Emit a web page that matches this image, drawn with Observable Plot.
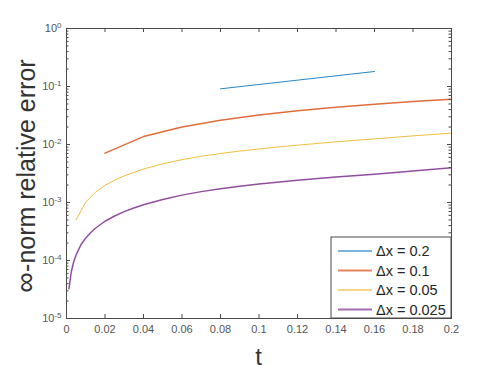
<!DOCTYPE html>
<html><head><meta charset="utf-8">
<script src="https://cdn.jsdelivr.net/npm/d3@7"></script>
<script src="https://cdn.jsdelivr.net/npm/@observablehq/plot@0.6"></script>
<style>
body{margin:0;background:#fff}
#chart svg{font-family:"Liberation Sans",Arial,sans-serif}
</style>
</head><body><div id="chart"></div>
<script>
// ---- data ----
const seriesNames = ["Δx = 0.2", "Δx = 0.1", "Δx = 0.05", "Δx = 0.025"];

const t_dx02 = [0.08, 0.16];
const e_dx02 = [0.0912, 0.1815];

const t_dx01 = [0.02, 0.04, 0.06, 0.08, 0.10, 0.12, 0.14, 0.16, 0.18, 0.20];
const e_dx01 = [0.0071, 0.0137, 0.0200, 0.0263, 0.0323, 0.0382, 0.0440, 0.0496, 0.0551, 0.0605];

const t_dx005 = [0.005, 0.01, 0.015, 0.02, 0.025, 0.03, 0.04, 0.05, 0.06, 0.07, 0.08, 0.09, 0.10, 0.12, 0.14, 0.15, 0.16, 0.18, 0.20];
const e_dx005 = [0.000503, 0.00102, 0.00150, 0.00198, 0.00243, 0.00288, 0.00378, 0.00465, 0.00548, 0.00627, 0.00700, 0.00770, 0.00838, 0.00975, 0.01110, 0.01180, 0.01250, 0.01410, 0.01570];

const t_dx0025 = [0.00125, 0.0025, 0.00375, 0.005, 0.0075, 0.01, 0.0125, 0.015, 0.02, 0.025, 0.03, 0.035, 0.04, 0.05, 0.06, 0.07, 0.08, 0.09, 0.10, 0.12, 0.14, 0.16, 0.18, 0.20];
const e_dx0025 = [3.25e-5, 6.4e-5, 9.5e-5, 1.25e-4, 1.87e-4, 2.45e-4, 3.0e-4, 3.6e-4, 4.75e-4, 5.85e-4, 6.95e-4, 8.05e-4, 9.15e-4, 1.13e-3, 1.34e-3, 1.54e-3, 1.73e-3, 1.91e-3, 2.08e-3, 2.42e-3, 2.74e-3, 3.06e-3, 3.50e-3, 3.96e-3];

const xTicks = [0, 0.02, 0.04, 0.06, 0.08, 0.1, 0.12, 0.14, 0.16, 0.18, 0.2];
const xTickLabels = ["0", "0.02", "0.04", "0.06", "0.08", "0.1", "0.12", "0.14", "0.16", "0.18", "0.2"];
const yTicks = [1e-5, 1e-4, 1e-3, 1e-2, 1e-1, 1];
const yTickExponents = ["-5", "-4", "-3", "-2", "-1", "0"];
const yMinorTicks = [];
for (let k = -5; k < 0; k++) for (let m = 2; m <= 9; m++) yMinorTicks.push(m * Math.pow(10, k));

const xLabel = "t";
const yLabel = "∞-norm relative error";

// ---- styles ----
const colors = ["#0072BD", "#D95319", "#EDB120", "#7E2F8E"];
const widths = [1, 1.5, 1, 1.5];
const axisColor = "#4a4a4a";

const seriesT = [t_dx02, t_dx01, t_dx005, t_dx0025];
const seriesE = [e_dx02, e_dx01, e_dx005, e_dx0025];
const rows = [];
seriesNames.forEach((name, i) => seriesT[i].forEach((t, j) => rows.push({series: name, t, err: seriesE[i][j]})));

const W = 499, H = 370, mL = 66, mR = 48, mT = 28, mB = 52;
const pw = W - mL - mR, ph = H - mT - mB;

const chart = Plot.plot({
  width: W, height: H,
  marginLeft: mL, marginRight: mR, marginTop: mT, marginBottom: mB,
  style: {fontFamily: "'Liberation Sans', Arial, sans-serif", fontSize: "11px", color: "#555", background: "white"},
  x: {domain: [0, 0.2]},
  y: {type: "log", domain: [1e-5, 1]},
  marks: [
    ...seriesNames.map((name, i) => Plot.line(rows.filter(r => r.series === name), {
      x: "t", y: "err", stroke: colors[i], strokeWidth: widths[i], strokeOpacity: 0.85
    })),
    Plot.frame({stroke: axisColor, strokeWidth: 1}),
    Plot.tickX(xTicks, {x: d => d, insetTop: ph - 4, stroke: axisColor}),
    Plot.tickX(xTicks, {x: d => d, insetBottom: ph - 4, stroke: axisColor}),
    Plot.tickY(yTicks, {y: d => d, insetRight: pw - 4, stroke: axisColor}),
    Plot.tickY(yTicks, {y: d => d, insetLeft: pw - 4, stroke: axisColor}),
    Plot.tickY(yMinorTicks, {y: d => d, insetRight: pw - 2.5, stroke: axisColor}),
    Plot.tickY(yMinorTicks, {y: d => d, insetLeft: pw - 2.5, stroke: axisColor}),
    Plot.axisX({ticks: xTicks, tickSize: 0, tickPadding: 7, label: null,
      tickFormat: d => xTickLabels[xTicks.indexOf(d)]}),
    Plot.axisY({ticks: yTicks, tickSize: 0, tickPadding: 5, label: null,
      tickFormat: d => "10^" + yTickExponents[yTicks.indexOf(d)]})
  ]
});

document.getElementById("chart").appendChild(chart);
const svg = d3.select(chart);

// superscript exponents on y tick labels
svg.selectAll("text").each(function() {
  const s = this.textContent;
  if (s.startsWith("10^")) {
    const el = d3.select(this);
    el.text("10");
    el.append("tspan").attr("dy", "-0.45em").attr("font-size", "8px").text(s.slice(3));
  }
});

// axis titles
svg.append("text")
  .attr("x", mL + pw / 2).attr("y", 365)
  .attr("text-anchor", "middle").attr("font-size", "24px").attr("fill", "#333")
  .text(xLabel);
const yl = svg.append("text")
  .attr("transform", `translate(35,${mT + ph / 2 + 3}) rotate(-90)`)
  .attr("text-anchor", "middle").attr("font-size", "25px").attr("fill", "#333");
yl.append("tspan").attr("font-size", "29px").text(yLabel.slice(0, 1));
yl.append("tspan").text(yLabel.slice(1));

// legend (inside lower right corner)
const lgW = 120, lgH = 81;
const lgX = W - mR - lgW, lgY = H - mB - lgH;
const lg = svg.append("g");
lg.append("rect").attr("x", lgX).attr("y", lgY).attr("width", lgW).attr("height", lgH)
  .attr("fill", "white").attr("stroke", axisColor).attr("stroke-width", 1);
seriesNames.forEach((name, i) => {
  const cy = lgY + 14 + i * 19.5;
  lg.append("line").attr("x1", lgX + 7).attr("x2", lgX + 41).attr("y1", cy).attr("y2", cy)
    .attr("stroke", colors[i]).attr("stroke-width", widths[i] + 0.5).attr("stroke-opacity", 0.7);
  lg.append("text").attr("x", lgX + 45).attr("y", cy).attr("dy", "0.35em")
    .attr("text-anchor", "start")
    .attr("font-size", "14.5px").attr("fill", "#262626").text(name);
});
</script>
</body></html>
